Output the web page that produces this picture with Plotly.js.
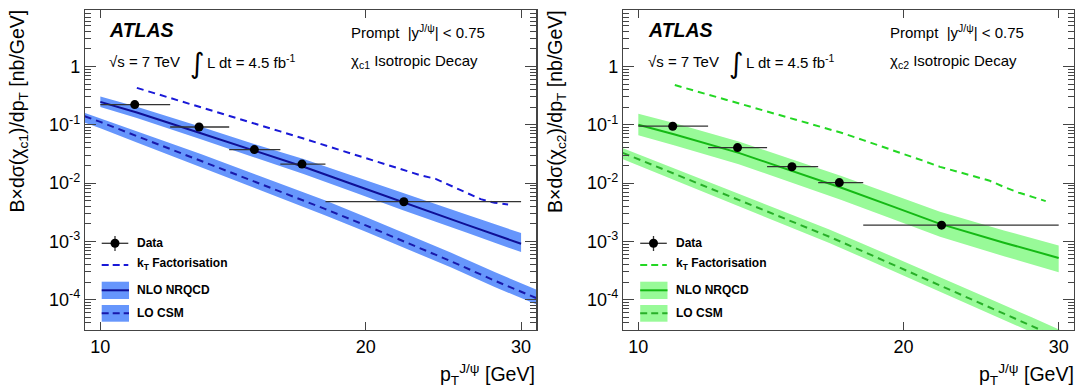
<!DOCTYPE html>
<html><head><meta charset="utf-8">
<script src="https://cdn.plot.ly/plotly-3.0.1.min.js"></script>
<style>body{margin:0;padding:0;background:#fff}#chart{width:1087px;height:391px}</style>
</head><body><div id="chart"></div>
<script>
// ---------------- data ----------------
const binLo = [10, 12, 14, 16, 18];
const binHi = [12, 14, 16, 18, 30];
const dataX1 = [10.94, 12.94, 14.95, 16.93, 22.09];
const dataY1 = [0.222, 0.0917, 0.0375, 0.0212, 0.00479];
const dataX2 = [10.94, 12.96, 14.94, 16.91, 22.09];
const dataY2 = [0.0946, 0.0406, 0.0191, 0.0102, 0.0019];

const ktX = [11, 12, 13, 14, 15, 16, 17, 18, 19, 20, 21, 22, 23, 24, 25, 26, 27, 28, 29];
const kt1 = [0.43, 0.29, 0.20, 0.143, 0.104, 0.077, 0.058, 0.044, 0.034, 0.0265, 0.021, 0.0166, 0.0138, 0.0118, 0.0089, 0.0068, 0.0053, 0.0046, 0.0043];
const kt2 = [0.48, 0.33, 0.234, 0.17, 0.126, 0.096, 0.073, 0.0545, 0.0415, 0.0318, 0.0245, 0.019, 0.0157, 0.0134, 0.0111, 0.0086, 0.0069, 0.0058, 0.0049];

const nloX = [10, 11, 13, 15, 17, 19.5, 22, 26, 30];
const nlo1 = [0.247, 0.162, 0.0716, 0.0348, 0.0191, 0.0091, 0.0047, 0.00194, 0.00091];
const nlo1Hi = [0.306, 0.204, 0.0924, 0.0459, 0.0258, 0.01265, 0.00672, 0.00289, 0.00139];
const nlo1Lo = [0.2025, 0.1312, 0.0566, 0.0268, 0.01433, 0.00678, 0.003455, 0.001416, 0.000655];
const nlo2 = [0.1, 0.068, 0.033, 0.0158, 0.0083, 0.0039, 0.002, 0.00095, 0.00052];
const nlo2Hi = [0.155, 0.1061, 0.0518, 0.02496, 0.0132, 0.00624, 0.00322, 0.00154, 0.000848];
const nlo2Lo = [0.066, 0.0442, 0.02112, 0.00995, 0.00515, 0.00238, 0.0012, 0.000556, 0.000296];

const loX = [9.6, 10, 11, 13, 15, 16.5, 18, 20, 22, 25, 28, 31.2];
const lo1 = [0.14, 0.112, 0.064, 0.0242, 0.0104, 0.0060, 0.00358, 0.00188, 0.00103, 0.000455, 0.000212, 0.000107];
const lo1Hi = [0.16, 0.129, 0.0768, 0.0315, 0.01404, 0.00828, 0.00501, 0.00263, 0.00144, 0.000637, 0.000297, 0.00015];
const lo1Lo = [0.109, 0.0874, 0.0499, 0.0189, 0.00811, 0.00468, 0.00279, 0.00147, 0.000803, 0.000355, 0.000165, 0.0000835];
const lo2 = [0.033, 0.0257, 0.0143, 0.00513, 0.00213, 0.00119, 0.000671, 0.000332, 0.000176, 0.000075, 0.0000352, 0.000017];
const lo2Hi = [0.0396, 0.0311, 0.01773, 0.00657, 0.00279, 0.00158, 0.000906, 0.000458, 0.000246, 0.000105, 0.0000493, 0.0000238];
const lo2Lo = [0.0257, 0.02, 0.01115, 0.004, 0.00166, 0.000928, 0.000523, 0.000259, 0.000137, 0.0000585, 0.0000275, 0.0000133];

const xTickVals = [10, 20, 30];
const xTickText = ['10', '20', '30'];
const yTickVals = [1e-4, 1e-3, 1e-2, 1e-1, 1];
const yTickText = ['10<sup>-4</sup>', '10<sup>-3</sup>', '10<sup>-2</sup>', '10<sup>-1</sup>', '1'];
const legendLabels = ['Data', 'k<sub>T</sub> Factorisation', 'NLO NRQCD', 'LO CSM'];
const yTitles = ['B×dσ(χ<sub>c1</sub>)/dp<sub>T</sub> [nb/GeV]', 'B×dσ(χ<sub>c2</sub>)/dp<sub>T</sub> [nb/GeV]'];
const decayLabels = ['χ<sub>c1</sub> Isotropic Decay', 'χ<sub>c2</sub> Isotropic Decay'];

// ---------------- styling ----------------
const W = 1087, H = 391;
const PX = x => x / W, PY = y => 1 - y / H;
const FONT = 'Liberation Sans, Arial, Helvetica, sans-serif';
const styles = [
  {band: 'rgb(102,150,252)', nlo: 'rgb(15,15,150)', lo: 'rgb(25,25,170)', kt: 'rgb(25,25,215)'},
  {band: 'rgb(152,250,152)', nlo: 'rgb(20,185,20)', lo: 'rgb(40,175,40)', kt: 'rgb(35,215,35)'}
];
const panels = [
  {xa: 'x', ya: 'y', off: 0, dx: dataX1, dy: dataY1, kt: kt1, nlo: nlo1, nloHi: nlo1Hi, nloLo: nlo1Lo, lo: lo1, loHi: lo1Hi, loLo: lo1Lo},
  {xa: 'x2', ya: 'y2', off: 538.5, dx: dataX2, dy: dataY2, kt: kt2, nlo: nlo2, nloHi: nlo2Hi, nloLo: nlo2Lo, lo: lo2, loHi: lo2Hi, loLo: lo2Lo}
];

const traces = [];
const shapes = [];
const ann = [];
panels.forEach((p, i) => {
  const s = styles[i];
  const base = {xaxis: p.xa, yaxis: p.ya, showlegend: false, hoverinfo: 'skip'};
  traces.push(Object.assign({x: loX, y: p.loLo, mode: 'lines', line: {width: 0}}, base));
  traces.push(Object.assign({x: loX, y: p.loHi, mode: 'lines', line: {width: 0}, fill: 'tonexty', fillcolor: s.band}, base));
  traces.push(Object.assign({x: nloX, y: p.nloLo, mode: 'lines', line: {width: 0}}, base));
  traces.push(Object.assign({x: nloX, y: p.nloHi, mode: 'lines', line: {width: 0}, fill: 'tonexty', fillcolor: s.band}, base));
  traces.push(Object.assign({x: loX, y: p.lo, mode: 'lines', line: {color: s.lo, width: 2, dash: '7px,5px'}}, base));
  traces.push(Object.assign({x: nloX, y: p.nlo, mode: 'lines', line: {color: s.nlo, width: 2}}, base));
  traces.push(Object.assign({x: ktX, y: p.kt, mode: 'lines', line: {color: s.kt, width: 2, dash: '7px,5px'}}, base));
  traces.push(Object.assign({
    x: p.dx, y: p.dy, mode: 'markers', marker: {color: 'black', size: 9},
    error_x: {type: 'data', symmetric: false,
      array: p.dx.map((v, k) => binHi[k] - v), arrayminus: p.dx.map((v, k) => v - binLo[k]),
      color: '#333', thickness: 1.3, width: 0}
  }, base));

  const o = p.off;
  // legend keys
  shapes.push({type: 'line', xref: 'paper', yref: 'paper', x0: PX(101.7 + o), x1: PX(128.3 + o), y0: PY(243.3), y1: PY(243.3), line: {color: '#333', width: 1.3}});
  shapes.push({type: 'line', xref: 'paper', yref: 'paper', x0: PX(115 + o), x1: PX(115 + o), y0: PY(236), y1: PY(251), line: {color: '#333', width: 1.3}});
  shapes.push({type: 'circle', xref: 'paper', yref: 'paper', x0: PX(110.5 + o), x1: PX(119.5 + o), y0: PY(238.8), y1: PY(247.8), fillcolor: 'black', line: {color: 'black', width: 0}});
  shapes.push({type: 'line', xref: 'paper', yref: 'paper', x0: PX(101.7 + o), x1: PX(128.3 + o), y0: PY(265), y1: PY(265), line: {color: s.kt, width: 2, dash: '7px,4px'}});
  shapes.push({type: 'rect', xref: 'paper', yref: 'paper', x0: PX(101.7 + o), x1: PX(129 + o), y0: PY(299), y1: PY(281.7), fillcolor: s.band, line: {width: 0}});
  shapes.push({type: 'line', xref: 'paper', yref: 'paper', x0: PX(101.7 + o), x1: PX(129 + o), y0: PY(290.3), y1: PY(290.3), line: {color: s.nlo, width: 2}});
  shapes.push({type: 'rect', xref: 'paper', yref: 'paper', x0: PX(101.7 + o), x1: PX(129 + o), y0: PY(321.7), y1: PY(305), fillcolor: s.band, line: {width: 0}});
  shapes.push({type: 'line', xref: 'paper', yref: 'paper', x0: PX(101.7 + o), x1: PX(129 + o), y0: PY(313.3), y1: PY(313.3), line: {color: s.lo, width: 2, dash: '7px,4px'}});
  const legY = [243.3, 264, 290.3, 313.3];
  legendLabels.forEach((t, k) => ann.push({xref: 'paper', yref: 'paper', x: PX(135 + o), y: PY(legY[k]), xanchor: 'left', yanchor: 'middle', showarrow: false, text: '<b>' + t + '</b>', font: {family: FONT, size: 12, color: 'black'}}));

  // in-plot labels
  const T = (x, y, text, size, extra) => ann.push(Object.assign({xref: 'paper', yref: 'paper', x: PX(x + o), y: PY(y), xanchor: 'left', yanchor: 'middle', showarrow: false, text: text, font: {family: FONT, size: size, color: 'black'}}, extra || {}));
  T(107, 30.5, '<b><i>ATLAS</i></b>', 19.5);
  T(107, 61.7, '√s = 7 TeV', 15);
  T(188, 63, '∫', 28, {font: {family: 'DejaVu Sans', size: 28, color: 'black'}});
  T(205, 61.7, 'L dt = 4.5 fb<sup>-1</sup>', 15);
  T(349, 31.7, 'Prompt  |y<sup>J/ψ</sup>| &lt; 0.75', 15);
  T(349, 61.7, decayLabels[i], 15);
  // axis titles
  ann.push({xref: 'paper', yref: 'paper', x: PX(18 + o), y: PY(8), xanchor: 'center', yanchor: 'top', textangle: -90, showarrow: false, text: yTitles[i], font: {family: FONT, size: 19.5, color: 'black'}});
  ann.push({xref: 'paper', yref: 'paper', x: PX(537 + o), y: PY(374), xanchor: 'right', yanchor: 'middle', showarrow: false, text: 'p<sub>T</sub><sup>J/ψ</sup> [GeV]', font: {family: FONT, size: 19.5, color: 'black'}});
});

const minorVals = [];
for (let e = -5; e <= 0; e++) for (let d = 2; d <= 9; d++) minorVals.push(d * Math.pow(10, e));

const xaxisBase = {
  type: 'log', range: [0.9826, 1.4945], showgrid: false, zeroline: false,
  showline: true, linecolor: '#444', linewidth: 1.2, mirror: 'allticks',
  ticks: 'inside', ticklen: 8, tickwidth: 1, tickcolor: '#444',
  tickmode: 'array', tickvals: xTickVals, ticktext: xTickText,
  tickfont: {family: FONT, size: 18, color: 'black'}
};
const yaxisBase = {
  type: 'log', range: [-4.52, 0.969], showgrid: false, zeroline: false,
  showline: true, linecolor: '#444', linewidth: 1.2, mirror: 'allticks',
  ticks: 'inside', ticklen: 11, tickwidth: 1, tickcolor: '#444',
  tickmode: 'array', tickvals: yTickVals, ticktext: yTickText,
  tickfont: {family: FONT, size: 18, color: 'black'},
  minor: {tickmode: 'array', tickvals: minorVals, ticks: 'inside', ticklen: 6, tickwidth: 1, tickcolor: '#444', showgrid: false}
};
const dom1 = [PX(85), PX(536.4)], dom2 = [PX(623), PX(1074)];
const ydom = [PY(330), PY(10)];

const layout = {
  width: W, height: H, autosize: false,
  margin: {l: 0, r: 0, t: 0, b: 0},
  paper_bgcolor: 'white', plot_bgcolor: 'white',
  showlegend: false,
  xaxis: Object.assign({}, xaxisBase, {domain: dom1, anchor: 'y'}),
  yaxis: Object.assign({}, yaxisBase, {domain: ydom, anchor: 'x'}),
  xaxis2: Object.assign({}, xaxisBase, {domain: dom2, anchor: 'y2'}),
  yaxis2: Object.assign({}, yaxisBase, {domain: ydom, anchor: 'x2'}),
  shapes: shapes, annotations: ann
};
Plotly.newPlot('chart', traces, layout, {displayModeBar: false, staticPlot: true});
</script></body></html>
